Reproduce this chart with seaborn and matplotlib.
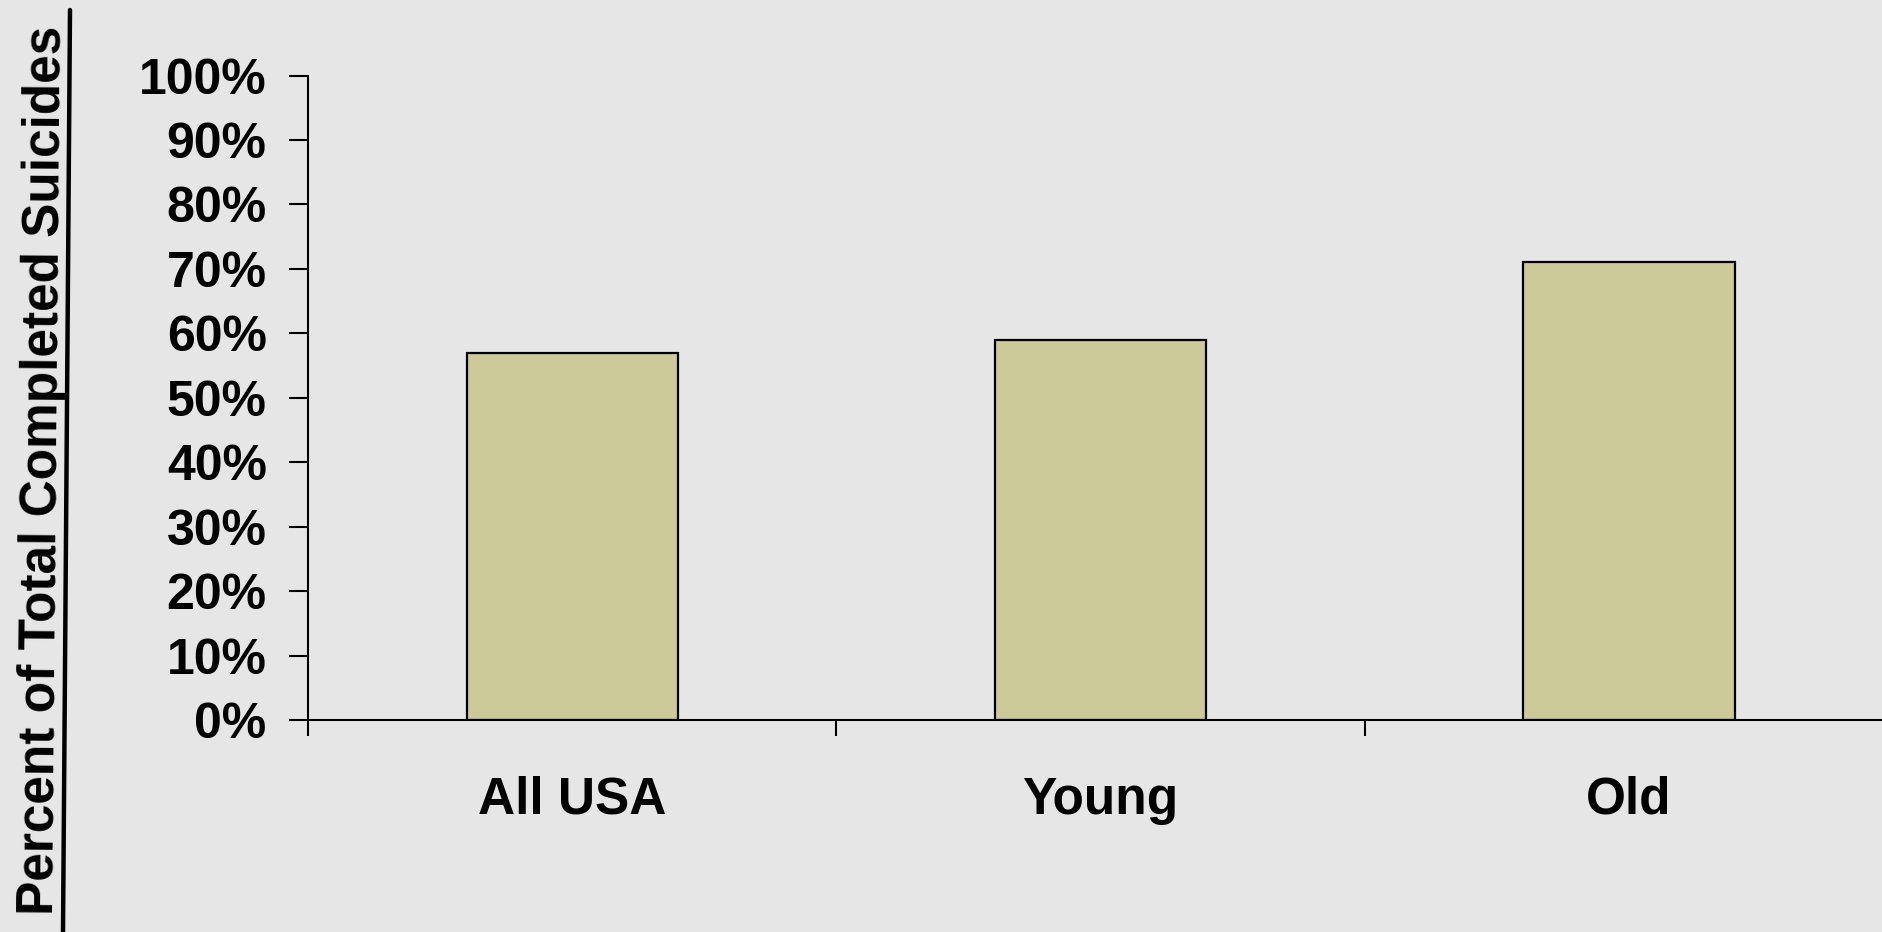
import matplotlib
matplotlib.use("Agg")
import matplotlib.pyplot as plt
import seaborn as sns
import pandas as pd
from matplotlib.lines import Line2D
from matplotlib.ticker import FixedLocator, PercentFormatter

categories = ["All USA", "Young", "Old"]
values = [57, 59, 71]
y_ticks = [0, 10, 20, 30, 40, 50, 60, 70, 80, 90, 100]
y_label = "Percent of Total Completed Suicides"

sns.set_theme(style="white")
plt.rcParams['font.family'] = ['Liberation Sans', 'DejaVu Sans']
plt.rcParams['font.weight'] = 'bold'

bg = '#e6e6e6'
fig = plt.figure(figsize=(18.82, 9.32), dpi=100, facecolor=bg)
ax = fig.add_axes([308/1882, 212/932, (1893-308)/1882, (720-75.6)/932])
ax.set_facecolor(bg)

df = pd.DataFrame({"cat": categories, "val": values})
sns.barplot(data=df, x="cat", y="val", color="#CCCA98", edgecolor="black",
            linewidth=1.6, width=0.4, saturation=1, ax=ax)
for p in ax.patches:
    p.set_facecolor("#CCCA98")

ax.set_xlim(-0.5, len(categories) - 0.5)
ax.set_ylim(0, 100)
ax.set_yticks(y_ticks)
ax.yaxis.set_major_formatter(PercentFormatter(decimals=0))
ax.set_xlabel("")
ax.set_ylabel("")

for s in ["top", "right"]:
    ax.spines[s].set_visible(False)
for s in ["left", "bottom"]:
    ax.spines[s].set_color("black")
    ax.spines[s].set_linewidth(1.5)

ax.tick_params(axis='y', which='major', direction='out', length=13.7, width=1.5,
               color='black', pad=16, labelsize=36, labelcolor='black', left=True)
ax.tick_params(axis='x', which='major', length=0, pad=40, labelsize=37, labelcolor='black')
ax.xaxis.set_minor_locator(FixedLocator([-0.5 + i for i in range(len(categories) + 1)]))
ax.tick_params(axis='x', which='minor', direction='out', length=11.5, width=1.5,
               color='black', bottom=True)
for lbl in ax.get_xticklabels() + ax.get_yticklabels():
    lbl.set_fontweight('bold')

fig.text(15/1882, 0.495, y_label, rotation=89.5, ha='left', va='center',
         fontsize=37, fontweight='bold', color='black')
fig.add_artist(Line2D([63/1882, 70/1882], [0, 1 - 10/932], transform=fig.transFigure,
                      color='black', linewidth=3.2))

fig.savefig("out.png", dpi=100, facecolor=bg)
